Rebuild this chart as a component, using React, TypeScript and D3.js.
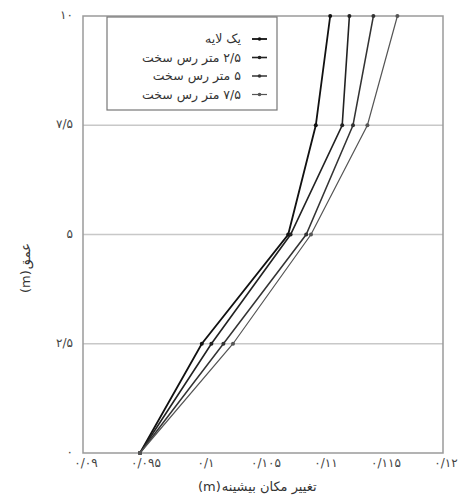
import React from "react";
import * as d3 from "d3";

const depths = [0, 2.5, 5, 7.5, 10];
const legendNumbers = ["", "۲/۵", "۵", "۷/۵"];
const legendWords = ["یک لایه", "متر رس سخت", "متر رس سخت", "متر رس سخت"];
const oneLayer = [0.09475, 0.0999, 0.1071, 0.1094, 0.1106];
const clay25 = [0.09475, 0.1007, 0.1073, 0.1116, 0.1122];
const clay5 = [0.09475, 0.1017, 0.1086, 0.1125, 0.1142];
const clay75 = [0.09475, 0.1025, 0.109, 0.1137, 0.1162];
const xTicks = [0.09, 0.095, 0.1, 0.105, 0.11, 0.115, 0.12];
const xTickLabels = ["۰/۰۹", "۰/۰۹۵", "۰/۱", "۰/۱۰۵", "۰/۱۱", "۰/۱۱۵", "۰/۱۲"];
const yTicks = [0, 2.5, 5, 7.5, 10];
const yTickLabels = ["۰", "۲/۵", "۵", "۷/۵", "۱۰"];
const xTitleWords = "تغییر مکان بیشینه";
const yTitleWords = "عمق";
const unitLabel = "(m)";

const allSeries = [oneLayer, clay25, clay5, clay75];
const strokeColors = ["#111", "#222", "#333", "#555"];
const strokeWidths = [1.8, 1.6, 1.5, 1.2];

const FONT = "'DejaVu Sans', sans-serif";

function measure(text: string, size: number): number {
  if (typeof document === "undefined") return text.length * size * 0.6;
  const c = document.createElement("canvas");
  const ctx = c.getContext("2d");
  if (!ctx) return text.length * size * 0.6;
  ctx.font = `${size}px 'DejaVu Sans'`;
  return ctx.measureText(text).width;
}

export default function App() {
  const W = 459, H = 497;
  const L = 83, R = 443, T = 16, B = 453;
  const x = d3.scaleLinear().domain([0.09, 0.12]).range([L, R]);
  const y = d3.scaleLinear().domain([0, 10]).range([B, T]);
  const line = d3.line<number>().x((d) => x(d)).y((_, i) => y(depths[i]));
  const legendSize = 12.5;
  const unitW = measure(unitLabel, 13);

  return (
    <svg width={W} height={H} style={{ position: "absolute", left: 0, top: 0, background: "#fff" }} fontFamily={FONT}>
      {yTicks.slice(1, 4).map((t) => (
        <line key={t} x1={L} x2={R} y1={y(t)} y2={y(t)} stroke="#c8c8c8" strokeWidth={1.5} />
      ))}
      <rect x={L} y={T} width={R - L} height={B - T} fill="none" stroke="#9a9a9a" strokeWidth={1.5} />
      {xTicks.map((t, i) => (
        <text key={t} x={x(t) + 3} y={467} fontSize={12} letterSpacing={1} fill="#444" textAnchor="middle">
          {xTickLabels[i]}
        </text>
      ))}
      {yTicks.map((t, i) => (
        <text key={t} x={73} y={y(t) + 3} fontSize={12} letterSpacing={1} fill="#444" textAnchor="end">
          {yTickLabels[i]}
        </text>
      ))}
      {allSeries.map((s, k) => (
        <g key={k}>
          <path d={line(s) || ""} fill="none" stroke={strokeColors[k]} strokeWidth={strokeWidths[k]} />
          {s.map((v, i) => (
            <circle key={i} cx={x(v)} cy={y(depths[i])} r={2} fill={strokeColors[k]} />
          ))}
        </g>
      ))}
      <rect x={107} y={T + 1} width={170} height={93} fill="#fff" stroke="#777" strokeWidth={1.2} />
      {legendWords.map((n, k) => {
        const ly = 39 + k * 18.5;
        const num = legendNumbers[k];
        const numW = num ? measure(num, legendSize) + 4 : 0;
        return (
          <g key={k}>
            <line x1={252} x2={267} y1={ly} y2={ly} stroke={strokeColors[k]} strokeWidth={strokeWidths[k]} />
            <circle cx={259.5} cy={ly} r={1.8} fill={strokeColors[k]} />
            {num && (
              <text x={241} y={ly + 4} fontSize={legendSize} fill="#333" textAnchor="end">
                {num}
              </text>
            )}
            <text x={241 - numW} y={ly + 4} fontSize={legendSize} fill="#333" textAnchor="end">
              {n}
            </text>
          </g>
        );
      })}
      <text x={198} y={491} fontSize={13} fill="#333" textAnchor="start">
        {unitLabel}
      </text>
      <text x={198 + unitW + 1} y={491} fontSize={13} fill="#333" textAnchor="start">
        {xTitleWords}
      </text>
      <text transform={`translate(30,293) rotate(-90)`} fontSize={13} fill="#333" textAnchor="start">
        {unitLabel}
      </text>
      <text transform={`translate(30,${293 - unitW - 1}) rotate(-90)`} fontSize={13} fill="#333" textAnchor="start">
        {yTitleWords}
      </text>
    </svg>
  );
}
